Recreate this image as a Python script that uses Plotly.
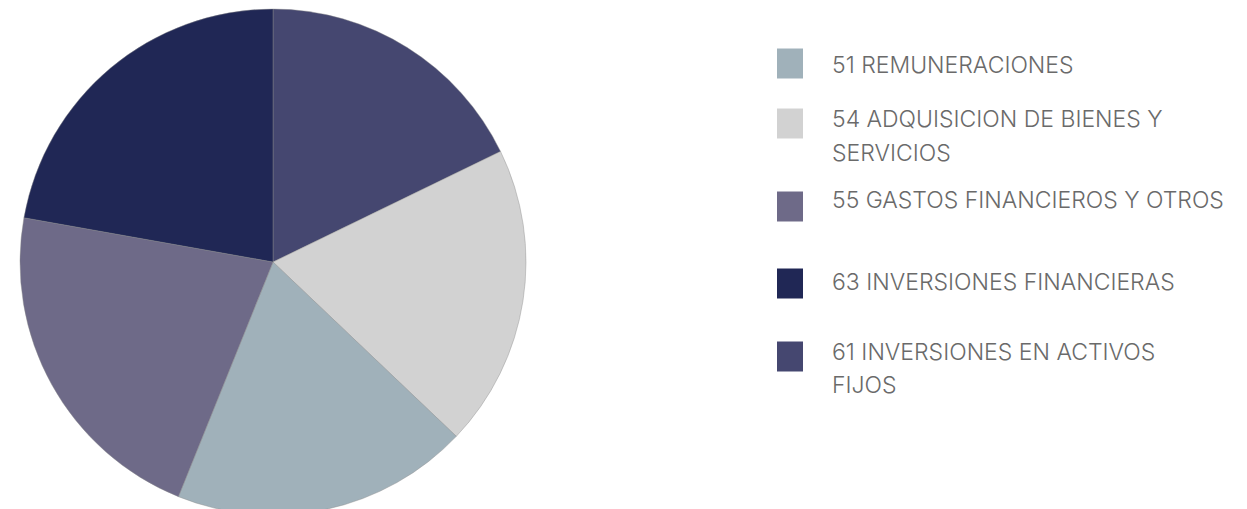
import plotly.graph_objects as go

# Data (legend order)
categories = [
    "51 REMUNERACIONES",
    "54 ADQUISICION DE BIENES Y SERVICIOS",
    "55 GASTOS FINANCIEROS Y OTROS",
    "63 INVERSIONES FINANCIERAS",
    "61 INVERSIONES EN ACTIVOS FIJOS",
]
values = [19.0, 19.3, 21.7, 22.2, 17.8]
legend_lines = [
    ["51 REMUNERACIONES"],
    ["54 ADQUISICION DE BIENES Y", "SERVICIOS"],
    ["55 GASTOS FINANCIEROS Y OTROS"],
    ["63 INVERSIONES FINANCIERAS"],
    ["61 INVERSIONES EN ACTIVOS", "FIJOS"],
]
colors = ["#a0b1ba", "#d2d2d2", "#6e6a88", "#202755", "#454770"]

# clockwise order of slices starting at 12 o'clock
slice_order = [4, 1, 0, 2, 3]

W, H = 1247, 509
OFF = 8  # page body offset

# pie geometry in page pixels
cx, cy, r = 273 - OFF, 262 - OFF, 253

fig = go.Figure()
fig.add_trace(go.Pie(
    labels=[categories[i] for i in slice_order],
    values=[values[i] for i in slice_order],
    marker=dict(colors=[colors[i] for i in slice_order],
                line=dict(color="rgba(140,140,140,0.7)", width=0.6)),
    sort=False,
    direction="clockwise",
    rotation=0,
    textinfo="none",
    hoverinfo="label+percent",
    showlegend=False,
    domain=dict(x=[(cx - r) / W, (cx + r) / W],
                y=[max(0, 1 - (cy + r) / H), 1 - (cy - r) / H]),
))

# custom legend
sq_centers = [63.5, 123.5, 206.5, 283.5, 356.5]
text_rows = [[65], [118.5, 153.5], [200], [281.5], [352, 384.5]]
shapes = []
annotations = []
for i in range(len(categories)):
    c = sq_centers[i] - OFF
    shapes.append(dict(type="rect", xref="paper", yref="paper",
                       x0=(777 - OFF) / W, x1=(803 - OFF) / W,
                       y0=1 - (c + 15) / H, y1=1 - (c - 15) / H,
                       fillcolor=colors[i], line=dict(width=0)))
    for line, ty in zip(legend_lines[i], text_rows[i]):
        annotations.append(dict(text=line, xref="paper", yref="paper",
                                x=(830 - OFF) / W, y=1 - (ty - OFF) / H,
                                xanchor="left", yanchor="middle",
                                showarrow=False,
                                font=dict(family="Inter", size=23, weight=300,
                                          color="#6a6a6a")))

fig.update_layout(
    width=W, height=H,
    margin=dict(l=0, r=0, t=0, b=0),
    paper_bgcolor="white",
    plot_bgcolor="white",
    shapes=shapes,
    annotations=annotations,
)

fig.write_html("out.html")
